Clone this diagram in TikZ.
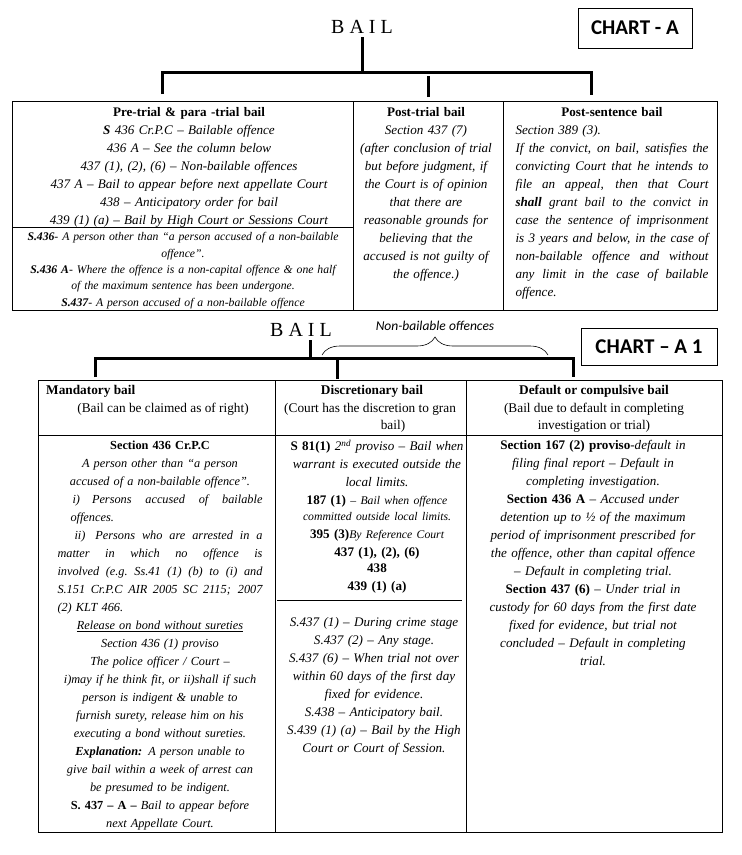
\documentclass[tikz,border=0pt]{standalone}
\usepackage{fontspec}
\setmainfont{Liberation Serif}
\newfontfamily\chartfont{Carlito}
\usetikzlibrary{
    positioning,
    decorations.pathreplacing
}

\newcommand\jline[2][205pt]{\makebox[#1][s]{\spaceskip=.22em plus 1fil\xspaceskip=.22em plus 1fil\relax #2}}
\newcommand\lline[2][205pt]{\makebox[#1][l]{#2}}
\newcommand\secno[1]{\textbf{\upshape #1}}

\begin{document}
\begin{tikzpicture}[x=1pt,y=-1pt,
    grid/.style={line width=0.8pt},
    bar/.style={line width=3pt},
    title/.style={font=\fontsize{20}{24}\selectfont},
    chartbox/.style={draw,line width=1pt,inner sep=0pt,
        font=\chartfont\bfseries\fontsize{21}{24}\selectfont},
    body/.style={inner sep=0pt,anchor=north,align=center,
        font=\fontsize{13.1}{18}\selectfont\itshape},
    small/.style={body,font=\fontsize{11.7}{16.3}\selectfont\itshape},
    head/.style={inner sep=0pt,font=\fontsize{13.3}{17}\selectfont}]

\useasboundingbox (0,0) rectangle (742,855);

% CHART - A
\node[title] (bail) at (362,27) {B A I L};
\node[chartbox,minimum width=114pt,minimum height=40pt] (charta) at (635,28) {CHART - A};

\coordinate (j1) at (362,72);
\coordinate (p1) at (162,94);
\coordinate (p2) at (428,97);
\coordinate (p3) at (591,95);
\draw[bar] (bail.south) -- (j1);
\draw[bar] (p1) -- (p1 |- j1) -- (p3 |- j1) -- (p3);
\draw[bar] (p2) -- ++(0,-21);

\draw[grid] (12,101) rectangle (717,310);
\draw[grid] (353,101) -- (353,310) (503,101) -- (503,310) (12,227) -- (353,227);

\node[body,text width=330pt] (pretrial) at (189,107.5) {
\textbf{\upshape Pre-trial \& para -trial  bail}\\
\textbf{S} 436 Cr.P.C – Bailable offence\\
436 A – See the column below\\
437 (1), (2), (6) – Non-bailable offences\\
437 A – Bail to appear before next appellate Court\\
438 – Anticipatory order for bail\\
439 (1) (a) – Bail by High Court or Sessions Court};

\node[small,text width=335pt] (pretrialnote) at (183,232.5) {
\textbf{S.436}- A person other than “a person accused of a non-bailable\\
offence”.\\
\textbf{S.436 A}- Where the offence is a  non-capital offence \& one half\\
of the maximum sentence has been undergone.\\
\textbf{S.437}- A person accused of a non-bailable offence};

\node[body,text width=148pt] (posttrial) at (426,107.5) {
\textbf{\upshape Post-trial bail}\\
Section 437 (7)\\
(after conclusion of trial\\
but before judgment, if\\
the Court is of opinion\\
that there are\\
reasonable grounds for\\
believing that the\\
accused is not guilty of\\
the offence.)};

\node[body,text width=193pt] (postsent) at (612,107.5) {
\textbf{\upshape Post-sentence bail}\\
\lline[193pt]{Section 389 (3).}\\
\jline[193pt]{If the convict, on bail,  satisfies the}\\
\jline[193pt]{convicting Court that he intends to}\\
\jline[193pt]{file an appeal, then that Court}\\
\jline[193pt]{\textbf{shall} grant bail to the convict in}\\
\jline[193pt]{case the sentence of imprisonment}\\
\jline[193pt]{is 3 years and below, in the case of}\\
\jline[193pt]{non-bailable offence and without}\\
\jline[193pt]{any limit in the case of bailable}\\
\lline[193pt]{offence.}};

% CHART - A 1
\node[title] (bail2) at (301,330) {B A I L};
\node[chartbox,minimum width=136pt,minimum height=37pt] (charta1) at (649,347) {CHART – A 1};

\coordinate (j2) at (310,358);
\coordinate (q1) at (95,377);
\coordinate (q2) at (337,379);
\coordinate (q3) at (573,377);
\draw[bar] (bail2.south -| j2) -- (j2);
\draw[bar] (q1) -- (q1 |- j2) -- (q3 |- j2) -- (q3);
\draw[bar] (q2) -- ++(0,-20);

\draw[decorate,decoration={brace,amplitude=18pt},line width=0.6pt] (322,355) -- (548,355);
\node[font=\chartfont\itshape\fontsize{13.5}{16}\selectfont] (nonbail) at (435,326) {Non-bailable offences};

\draw[grid] (38,380) rectangle (722,832);
\draw[grid] (275,380) -- (275,832) (466,380) -- (466,832) (38,435) -- (722,435);
\draw[grid] (277,600) -- (462,600);

% headings
\node[head,anchor=west] (mand) at (46,391) {\textbf{Mandatory bail}};
\node[head] (mandnote) at (163,409) {(Bail can be claimed as of right)};
\node[head] (disc) at (372,391) {\textbf{Discretionary bail}};
\node[head,anchor=west] (discnote) at (284,409) {(Court has the discretion to gran};
\node[head] (discnote2) at (393,426) {bail)};
\node[head] (dflt) at (594,391) {\textbf{Default or compulsive bail}};
\node[head,align=center,anchor=north] (dfltnote) at (594,403) {(Bail due to default in completing\\investigation or trial)};

% bodies
\node[body,text width=215pt,font=\fontsize{12.3}{18}\selectfont\itshape] (mandbody) at (160,440.5) {
\secno{Section 436 Cr.P.C}\\
A person other than “a person\\
accused of a non-bailable offence”.\\
\jline{\hspace*{15pt}i)\hspace{12pt}Persons accused of bailable}\\
\lline{\hspace*{13pt}offences.}\\
\jline{\hspace*{17pt}ii)\hspace{10pt}Persons who are arrested in a}\\
\jline{matter in which no offence is}\\
\jline{involved (e.g. Ss.41 (1) (b) to (i) and}\\
\jline{S.151 Cr.P.C AIR 2005 SC 2115; 2007}\\
\lline{(2) KLT 466.}\\
\underline{Release on  bond without sureties}\\
Section 436 (1) proviso\\
The police officer / Court –\\
i)may if he think fit, or ii)shall if such\\
person is indigent \& unable to\\
furnish surety, release him on his\\
executing a bond without sureties.\\
\textbf{Explanation:} A person unable to\\
give bail within a week of arrest can\\
be presumed to be indigent.\\
\secno{S. 437 – A –} Bail to appear before\\
next Appellate Court.};

\node[body,text width=182pt] (discbody) at (377,439.5) {
\secno{S 81(1)} 2\textsuperscript{nd} proviso – Bail when\\
warrant is executed outside the\\
local limits.\\
\secno{187 (1)} {\fontsize{11.7}{16}\selectfont – Bail when offence}\\[-2pt]
{\fontsize{11.7}{16}\selectfont committed outside local limits.}\\
\secno{395 (3)}{\fontsize{11.7}{16}\selectfont By Reference Court}\\
\secno{437 (1), (2), (6)}\\[-2pt]
\secno{438}\\
\secno{439 (1) (a)}};

\node[body,text width=182pt] (discnote3) at (374,617.5) {
S.437 (1) – During crime stage\\
S.437 (2) – Any stage.\\
S.437 (6) – When trial not over\\
within 60 days of the first day\\
fixed for evidence.\\
S.438 – Anticipatory bail.\\
S.439 (1) (a) – Bail by the High\\
Court or Court of Session.};

\node[body,text width=245pt] (dfltbody) at (593,440.5) {
\secno{Section 167 (2) proviso}-default in\\
filing final report – Default in\\
completing investigation.\\
\secno{Section 436 A} – Accused under\\
detention up to ½ of the maximum\\
period of imprisonment prescribed for\\
the offence, other than capital offence\\
– Default in completing trial.\\
\secno{Section 437 (6)} – Under trial in\\
custody for 60 days from the first date\\
fixed for evidence, but trial not\\
concluded – Default in completing\\
trial.};

\end{tikzpicture}
\end{document}
